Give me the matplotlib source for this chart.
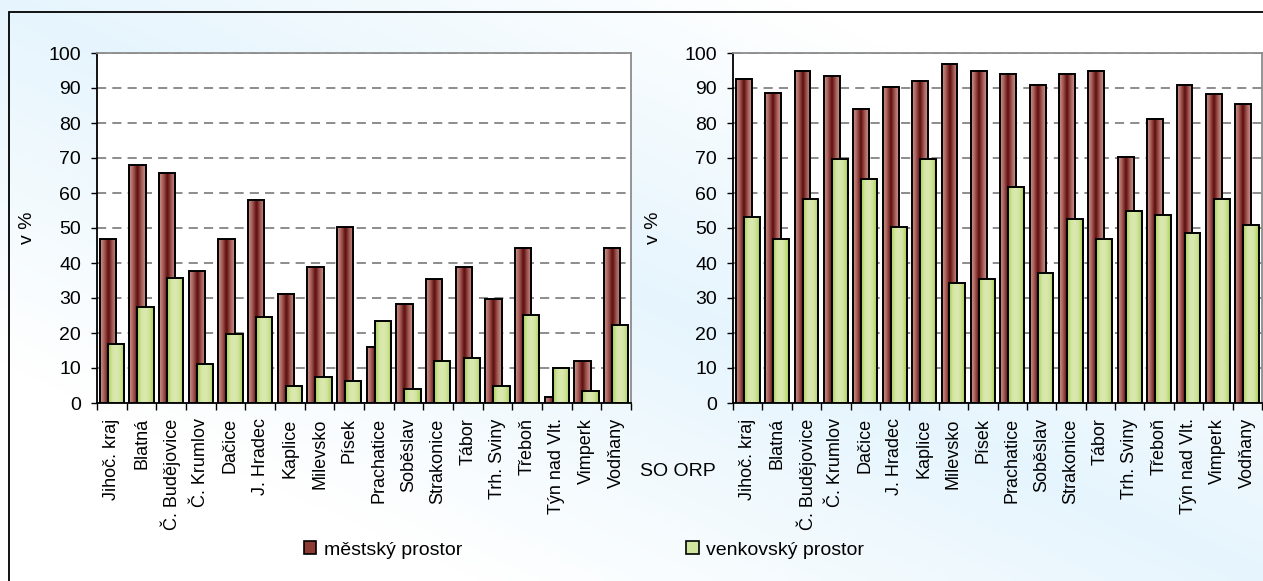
import numpy as np
import matplotlib
matplotlib.use("Agg")
import matplotlib.pyplot as plt
from matplotlib.colors import LinearSegmentedColormap
from matplotlib.patches import Patch, Rectangle

plt.rcParams['font.family'] = ['Liberation Sans', 'DejaVu Sans']

# SO ORP v Jihočeském kraji
kategorie = ['Jihoč. kraj', 'Blatná', 'Č. Budějovice', 'Č. Krumlov', 'Dačice',
             'J. Hradec', 'Kaplice', 'Milevsko', 'Písek', 'Prachatice',
             'Soběslav', 'Strakonice', 'Tábor', 'Trh. Sviny', 'Třeboň',
             'Týn nad Vlt.', 'Vimperk', 'Vodňany']

# levý graf
mestsky_1 = [46.8, 68.0, 65.6, 37.6, 46.8, 58.1, 31.2, 38.8, 50.2, 15.9,
             28.4, 35.4, 38.8, 29.6, 44.4, 1.6, 11.9, 44.4]
venkovsky_1 = [17.0, 27.3, 35.8, 11.2, 19.8, 24.5, 5.0, 7.3, 6.2, 23.3,
               3.9, 11.9, 13.0, 5.0, 25.1, 10.1, 3.3, 22.2]

# pravý graf
mestsky_2 = [92.7, 88.7, 95.0, 93.3, 84.1, 90.4, 92.1, 96.8, 95.0, 93.9,
             91.0, 93.9, 95.0, 70.3, 81.2, 91.0, 88.2, 85.3]
venkovsky_2 = [53.2, 46.8, 58.3, 69.8, 64.1, 50.3, 69.8, 34.2, 35.3, 61.8,
               37.2, 52.5, 46.8, 54.8, 53.7, 48.6, 58.3, 50.8]

cmap_red = LinearSegmentedColormap.from_list(
    'cervena', ['#cc968e', '#a45c56', '#5c0c0c', '#a45c56', '#cc968e'])
cmap_green = LinearSegmentedColormap.from_list(
    'zelena', ['#a6ce4c', '#d4e6a4', '#dce9b2', '#cfe39a', '#a6ce4c'])

W, H = 1263, 581
fig = plt.figure(figsize=(W / 100, H / 100), dpi=100)

# pozadí - diagonální přechod
bg = fig.add_axes([0, 0, 1, 1], zorder=-10)
u, v = np.meshgrid(np.linspace(0, 1, 300), np.linspace(0, 1, 150))
t = np.clip(np.abs(u - v) * 1.6, 0, 1)[..., None]
modra = np.array([230, 245, 253]) / 255
bila = np.array([1.0, 1.0, 1.0])
bg.imshow(modra * (1 - t) + bila * t, extent=[0, 1, 0, 1], aspect='auto')
bg.set_axis_off()
fig.patches.append(Rectangle((9 / W, -0.1), 2, 1.1 - 12 / H, transform=fig.transFigure,
                             fill=False, edgecolor='black', linewidth=1.3))


def sloupce(ax, x, hodnoty, sirka, cmap, z):
    grad = np.linspace(0, 1, 64).reshape(1, -1)
    bars = ax.bar(x, hodnoty, sirka, facecolor='none', edgecolor='black',
                  linewidth=1.4, zorder=z + 0.1)
    for b in bars:
        x0, w, h = b.get_x(), b.get_width(), b.get_height()
        ax.imshow(grad, extent=[x0, x0 + w, 0, h], cmap=cmap, aspect='auto',
                  interpolation='bilinear', zorder=z)
    return bars


def graf(ax, mestsky, venkovsky, ylab_x):
    x = np.arange(len(kategorie))
    sirka = 0.54
    sloupce(ax, x - 0.135, mestsky, sirka, cmap_red, 2)
    sloupce(ax, x + 0.135, venkovsky, sirka, cmap_green, 3)
    ax.set_xlim(-0.5, len(kategorie) - 0.5)
    ax.set_ylim(0, 100)
    ax.set_facecolor('white')
    ax.set_yticks(np.arange(0, 101, 10))
    ax.yaxis.grid(True, color='#6e6e6e', linestyle=(0, (6, 4)), linewidth=1.1)
    ax.set_axisbelow(True)
    ax.set_xticks(x)
    ax.set_xticklabels(kategorie, rotation=90, fontsize=13)
    ax.set_xticks(np.arange(-0.5, len(kategorie), 1), minor=True)
    ax.tick_params(axis='x', which='major', length=0, pad=11)
    ax.tick_params(axis='x', which='minor', length=5, width=1, direction='out')
    ax.tick_params(axis='y', length=4.5, width=1, labelsize=14, pad=7)
    for s in ('top', 'right'):
        ax.spines[s].set_color('#8c8c8c')
        ax.spines[s].set_linewidth(1.3)
    for s in ('left', 'bottom'):
        ax.spines[s].set_color('black')
        ax.spines[s].set_linewidth(1.3)
    ax.set_ylabel('v %', fontsize=14)
    ax.yaxis.set_label_coords(ylab_x, 0.5)


ax1 = fig.add_axes([97 / W, (H - 403) / H, 534 / W, 350 / H])
graf(ax1, mestsky_1, venkovsky_1, -0.115)

ax2 = fig.add_axes([733 / W, (H - 403) / H, 529 / W, 350 / H])
graf(ax2, mestsky_2, venkovsky_2, -0.134)

fig.text(640 / W, (H - 472) / H, 'SO ORP', fontsize=14, va='center', ha='left')

handles = [Patch(facecolor='#8e3b36', edgecolor='black', linewidth=1.2),
           Patch(facecolor='#d2e59e', edgecolor='black', linewidth=1.2)]
fig.legend(handles, ['městský prostor', 'venkovský prostor'], ncol=2,
           loc='center', bbox_to_anchor=(584 / W, (H - 550) / H),
           frameon=False, fontsize=14, handlelength=0.65, handleheight=0.65,
           handletextpad=0.4, columnspacing=11.5)

fig.savefig('out.png', dpi=100)
